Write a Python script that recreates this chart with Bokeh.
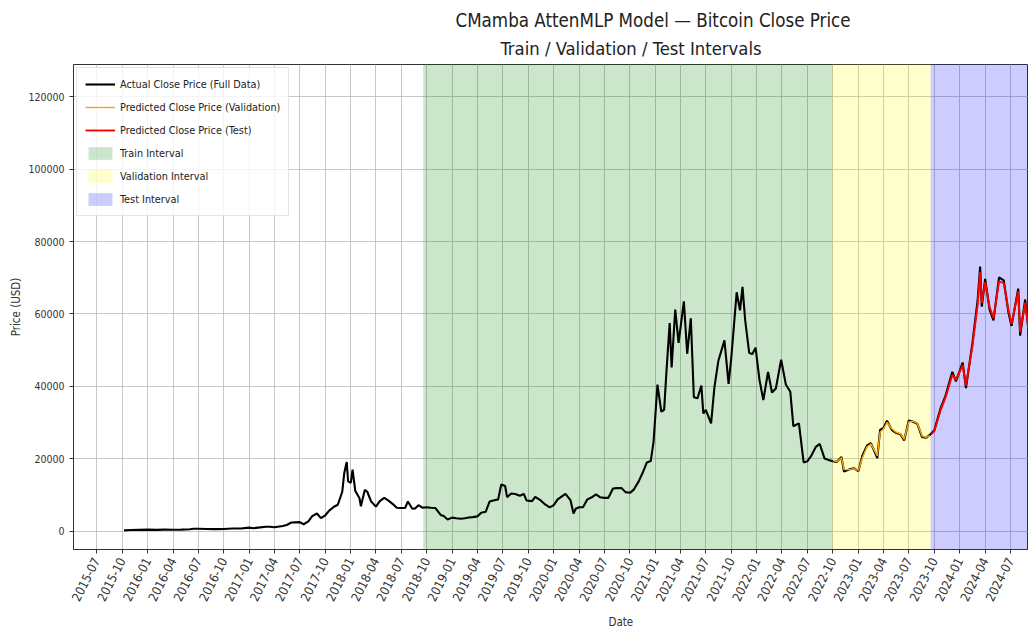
import pandas as pd
from bokeh.plotting import figure
from bokeh.models import (Range1d, FixedTicker, DatetimeTickFormatter, NumeralTickFormatter,
                          Title, Legend, LegendItem)
from bokeh.embed import file_html
from bokeh.resources import INLINE

# ---------------- data ----------------
actual_dates = [
    "2015-10-08", "2015-11-01", "2015-12-01", "2016-01-01", "2016-02-01", "2016-03-01", "2016-04-01",
    "2016-05-01", "2016-06-01", "2016-06-15", "2016-07-01", "2016-08-01", "2016-09-01", "2016-10-01",
    "2016-11-01", "2016-12-01", "2017-01-01", "2017-01-15", "2017-02-01", "2017-03-01", "2017-03-15",
    "2017-04-01", "2017-05-01", "2017-05-15", "2017-06-01", "2017-06-15", "2017-07-01", "2017-07-15",
    "2017-08-01", "2017-08-15", "2017-09-01", "2017-09-15", "2017-10-01", "2017-10-15", "2017-11-01",
    "2017-11-15", "2017-12-01", "2017-12-08", "2017-12-17", "2017-12-22", "2018-01-01", "2018-01-07",
    "2018-01-17", "2018-02-01", "2018-02-06", "2018-02-20", "2018-03-01", "2018-03-15", "2018-04-01",
    "2018-04-15", "2018-05-01", "2018-05-15", "2018-06-01", "2018-06-15", "2018-07-01", "2018-07-15",
    "2018-07-25", "2018-08-10", "2018-08-20", "2018-09-01", "2018-09-15", "2018-10-01", "2018-10-15",
    "2018-11-01", "2018-11-20", "2018-12-01", "2018-12-15", "2018-12-31", "2019-01-15", "2019-02-01",
    "2019-02-15", "2019-03-01", "2019-03-15", "2019-04-01", "2019-04-15", "2019-05-01", "2019-05-15",
    "2019-06-01", "2019-06-15", "2019-06-26", "2019-07-10", "2019-07-17", "2019-08-01", "2019-08-15",
    "2019-09-01", "2019-09-15", "2019-09-25", "2019-10-15", "2019-10-26", "2019-11-15", "2019-12-01",
    "2019-12-17", "2020-01-01", "2020-01-15", "2020-02-12", "2020-03-01", "2020-03-12", "2020-03-20",
    "2020-04-01", "2020-04-15", "2020-05-01", "2020-05-15", "2020-06-01", "2020-06-15", "2020-07-01",
    "2020-07-15", "2020-08-01", "2020-08-15", "2020-09-01", "2020-09-15", "2020-10-01", "2020-10-15",
    "2020-11-01", "2020-11-15", "2020-12-01", "2020-12-15", "2020-12-25", "2021-01-08", "2021-01-22",
    "2021-02-01", "2021-02-10", "2021-02-21", "2021-02-28", "2021-03-13", "2021-03-25", "2021-04-13",
    "2021-04-25", "2021-05-08", "2021-05-19", "2021-06-01", "2021-06-15", "2021-06-22", "2021-07-01",
    "2021-07-20", "2021-08-01", "2021-08-15", "2021-09-06", "2021-09-21", "2021-10-01", "2021-10-20",
    "2021-11-01", "2021-11-10", "2021-11-20", "2021-12-04", "2021-12-15", "2021-12-27", "2022-01-10",
    "2022-01-24", "2022-02-10", "2022-02-24", "2022-03-10", "2022-03-29", "2022-04-15", "2022-05-01",
    "2022-05-12", "2022-06-01", "2022-06-18", "2022-07-01", "2022-07-15", "2022-08-01", "2022-08-15",
    "2022-09-01", "2022-09-15", "2022-10-01", "2022-10-15", "2022-11-01", "2022-11-10", "2022-12-01",
    "2022-12-15", "2023-01-01", "2023-01-15", "2023-02-01", "2023-02-15", "2023-03-10", "2023-03-20",
    "2023-04-01", "2023-04-14", "2023-05-01", "2023-05-15", "2023-06-01", "2023-06-15", "2023-07-01",
    "2023-07-15", "2023-08-01", "2023-08-18", "2023-09-01", "2023-09-15", "2023-10-01", "2023-10-24",
    "2023-11-10", "2023-12-05", "2023-12-18", "2024-01-11", "2024-01-23", "2024-02-15", "2024-03-05",
    "2024-03-14", "2024-03-20", "2024-04-01", "2024-04-17", "2024-05-01", "2024-05-21", "2024-06-07",
    "2024-06-24", "2024-07-05", "2024-07-29", "2024-08-05", "2024-08-23", "2024-09-06", "2024-09-20",
]
actual_close = [
    245, 315, 378, 434, 372, 435, 417,
    452, 537, 690, 677, 606, 572, 613,
    730, 756, 998, 818, 989, 1222, 1250,
    1080, 1420, 1720, 2400, 2450, 2500, 1930,
    2720, 4150, 4900, 3630, 4400, 5700, 6750,
    7300, 10900, 16000, 19100, 13800, 13400, 17000,
    11100, 9100, 6900, 11400, 10900, 8200, 6800,
    8300, 9200, 8500, 7500, 6500, 6400, 6400,
    8200, 6200, 6300, 7200, 6500, 6600, 6500,
    6400, 4500, 4200, 3250, 3750, 3600, 3450,
    3600, 3800, 3900, 4100, 5100, 5350, 8200,
    8550, 8800, 12900, 12500, 9400, 10400, 10300,
    9800, 10300, 8500, 8300, 9500, 8500, 7400,
    6600, 7200, 8800, 10300, 8600, 4900, 6200,
    6600, 6600, 8800, 9300, 10200, 9400, 9200,
    9200, 11800, 11900, 11900, 10800, 10600, 11500,
    13700, 16000, 19000, 19400, 24700, 40500, 33000,
    33500, 44800, 57500, 45200, 61200, 52000, 63500,
    49000, 58800, 37000, 36700, 40200, 32500, 33500,
    29800, 39800, 47000, 52700, 40700, 48200, 66000,
    61000, 67500, 58000, 49300, 48900, 50700, 41800,
    36200, 44000, 38300, 39400, 47400, 40500, 38500,
    29000, 29800, 19000, 19300, 20800, 23300, 24100,
    20100, 19700, 19300, 19100, 20500, 16500, 17100,
    17400, 16600, 20800, 23700, 24300, 20200, 28000,
    28500, 30500, 28000, 27200, 26800, 25100, 30600,
    30300, 29700, 26000, 25800, 26600, 27900, 34000,
    37300, 44000, 41400, 46600, 39500, 51800, 63800,
    73100, 62000, 69700, 61200, 58200, 70100, 69300,
    60300, 56700, 67000, 54000, 64000, 53900, 63000,
]

val_dates = [
    "2022-10-01", "2022-10-15", "2022-11-01", "2022-11-10", "2022-12-01", "2022-12-15", "2023-01-01",
    "2023-01-15", "2023-02-01", "2023-02-15", "2023-03-10", "2023-03-20", "2023-04-01", "2023-04-14",
    "2023-05-01", "2023-05-15", "2023-06-01", "2023-06-15", "2023-07-01", "2023-07-15", "2023-08-01",
    "2023-08-18", "2023-09-01", "2023-09-15",
]
val_pred = [
    19500, 19200, 20300, 17000, 17000, 17300, 16800,
    20200, 23300, 24100, 20800, 27300, 28200, 30100,
    28300, 27400, 26900, 25400, 30200, 30400, 29800,
    26300, 25900, 26400,
]

test_dates = [
    "2023-09-20", "2023-10-01", "2023-10-24", "2023-11-10", "2023-12-05", "2023-12-18", "2024-01-11",
    "2024-01-23", "2024-02-15", "2024-03-05", "2024-03-14", "2024-03-20", "2024-04-01", "2024-04-17",
    "2024-05-01", "2024-05-21", "2024-06-07", "2024-06-24", "2024-07-05", "2024-07-29", "2024-08-05",
    "2024-08-23", "2024-09-06", "2024-09-20",
]
test_pred = [
    26800, 27600, 33500, 36800, 43200, 41800, 45900,
    40200, 51000, 62500, 71500, 63000, 68800, 62000,
    58800, 69000, 68500, 61000, 57300, 66200, 55000,
    63100, 54600, 62500,
]

interval_names = ["Train Interval", "Validation Interval", "Test Interval"]
interval_starts = ["2018-09-18", "2022-09-29", "2023-09-18"]
interval_ends = ["2022-09-29", "2023-09-18", "2025-09-25"]
interval_colors = ["green", "yellow", "blue"]

tick_labels = [
    "2015-07", "2015-10", "2016-01", "2016-04", "2016-07", "2016-10", "2017-01", "2017-04",
    "2017-07", "2017-10", "2018-01", "2018-04", "2018-07", "2018-10", "2019-01", "2019-04",
    "2019-07", "2019-10", "2020-01", "2020-04", "2020-07", "2020-10", "2021-01", "2021-04",
    "2021-07", "2021-10", "2022-01", "2022-04", "2022-07", "2022-10", "2023-01", "2023-04",
    "2023-07", "2023-10", "2024-01", "2024-04", "2024-07", "2024-10", "2025-01", "2025-04",
    "2025-07",
]
y_ticks = [0, 20000, 40000, 60000, 80000, 100000, 120000]

title_text = "CMamba AttenMLP Model \u2014 Bitcoin Close Price"
subtitle_text = "Train / Validation / Test Intervals"
x_label = "Date"
y_label = "Price (USD)"

x_view = ("2015-04-09", "2024-09-04")
y_view = (-5050, 128900)

FONT = "'DejaVu Sans Condensed', 'Liberation Sans Narrow', 'DejaVu Sans', sans-serif"

# ---------------- figure ----------------
to_dt = lambda s: pd.to_datetime(s)

p = figure(
    width=1028, height=634,
    x_axis_type="datetime",
    x_range=Range1d(to_dt(x_view[0]), to_dt(x_view[1])),
    y_range=Range1d(*y_view),
    output_backend="svg", toolbar_location=None,
    min_border_left=73, min_border_right=0, min_border_top=64, min_border_bottom=85,
    background_fill_color="white", border_fill_color="white",
)

# intervals (like axvspan)
span_renderers = []
for name, s, e, c in zip(interval_names, interval_starts, interval_ends, interval_colors):
    r = p.quad(left=[to_dt(s)], right=[to_dt(e)], bottom=[y_view[0] - 1e5], top=[y_view[1] + 1e5],
               fill_color=c, fill_alpha=0.2, line_color=None)
    span_renderers.append(r)

r_act = p.line(pd.to_datetime(actual_dates), actual_close, line_color="black", line_width=2.1)
r_val = p.line(pd.to_datetime(val_dates), val_pred, line_color="orange", line_width=1.4)
r_test = p.line(pd.to_datetime(test_dates), test_pred, line_color="red", line_width=1.9)

legend = Legend(items=[
    LegendItem(label="Actual Close Price (Full Data)", renderers=[r_act]),
    LegendItem(label="Predicted Close Price (Validation)", renderers=[r_val]),
    LegendItem(label="Predicted Close Price (Test)", renderers=[r_test]),
    LegendItem(label=interval_names[0], renderers=[span_renderers[0]]),
    LegendItem(label=interval_names[1], renderers=[span_renderers[1]]),
    LegendItem(label=interval_names[2], renderers=[span_renderers[2]]),
], location="top_left")
legend.label_text_font = FONT
legend.label_text_font_size = "10.8px"
legend.label_text_color = "#222222"
legend.glyph_width = 30
legend.glyph_height = 16
legend.label_height = 16
legend.spacing = 7
legend.padding = 8
legend.margin = 3
legend.border_line_color = "#cccccc"
legend.border_line_width = 1
legend.background_fill_alpha = 0.8
p.add_layout(legend)

# axes
tick_ms = [pd.Timestamp(t + "-01").value / 1e6 for t in tick_labels]
p.xaxis.ticker = FixedTicker(ticks=tick_ms)
fmt = "%Y-%m"
p.xaxis.formatter = DatetimeTickFormatter(microseconds=fmt, milliseconds=fmt, seconds=fmt, minsec=fmt,
                                          minutes=fmt, hourmin=fmt, hours=fmt, days=fmt, months=fmt, years=fmt)
p.xaxis.major_label_orientation = 1.1
p.yaxis.ticker = FixedTicker(ticks=y_ticks)
p.yaxis.formatter = NumeralTickFormatter(format="0")
p.yaxis.axis_label = y_label

for ax in (p.xaxis[0], p.yaxis[0]):
    ax.major_label_text_font = FONT
    ax.major_label_text_color = "#333333"
    ax.axis_label_text_font = FONT
    ax.axis_label_text_font_size = "11.5px"
    ax.axis_label_text_font_style = "normal"
    ax.axis_label_text_color = "#333333"
    ax.minor_tick_line_color = None
    ax.major_tick_out = 4
    ax.major_tick_in = 0
    ax.major_tick_line_color = "#333333"
    ax.axis_line_color = "#333333"
p.xaxis.major_label_text_font_size = "12.5px"
p.yaxis.major_label_text_font_size = "10.5px"
p.yaxis.axis_label_standoff = 2

p.outline_line_color = "#333333"
p.outline_line_width = 1

p.xgrid.ticker = FixedTicker(ticks=tick_ms)
p.ygrid.ticker = FixedTicker(ticks=y_ticks)
p.grid.grid_line_color = "#b8b8b8"
p.grid.grid_line_width = 1
p.grid.grid_line_alpha = 0.8

# titles (subtitle first: it sits closest to the plot)
p.add_layout(Title(text=subtitle_text, align="left", offset=427,
                   text_font=FONT, text_font_size="18.3px", text_font_style="normal",
                   text_color="#222222", standoff=11), "above")
p.add_layout(Title(text=title_text, align="left", offset=382,
                   text_font=FONT, text_font_size="18.6px", text_font_style="normal",
                   text_color="#222222", standoff=0), "above")
p.add_layout(Title(text=x_label, align="left", offset=535, text_font=FONT, text_font_size="11.5px",
                   text_font_style="normal", text_color="#333333", standoff=10), "below")

open("out.html", "w").write(file_html(p, INLINE))
